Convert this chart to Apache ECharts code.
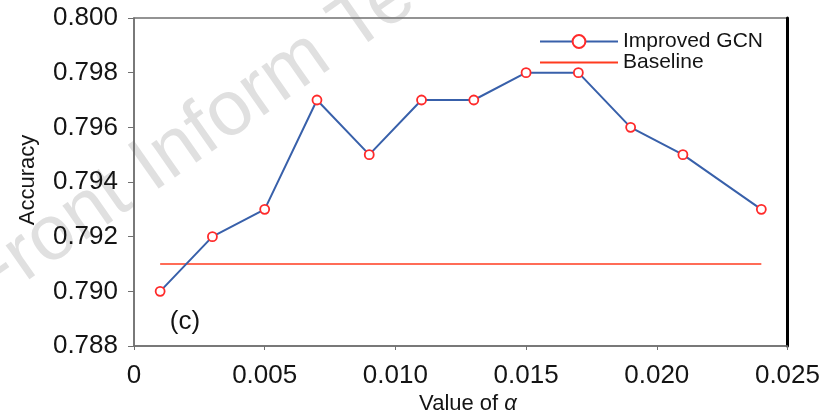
<!DOCTYPE html>
<html>
<head>
<meta charset="utf-8">
<script src="https://cdn.jsdelivr.net/npm/echarts@6/dist/echarts.min.js"></script>
<style>
  html, body { margin: 0; padding: 0; background: #fff; }
  #chart { width: 823px; height: 415px; }
</style>
</head>
<body>
<div id="chart"></div>
<script>
// Accuracy of the improved GCN for different values of alpha
const alphaValues = [0.001, 0.003, 0.005, 0.007, 0.009, 0.011, 0.013, 0.015, 0.017, 0.019, 0.021, 0.024];
const improvedAccuracy = [0.790, 0.792, 0.793, 0.797, 0.795, 0.797, 0.797, 0.798, 0.798, 0.796, 0.795, 0.793];
const baselineAlpha = [0.001, 0.024];
const baselineAccuracy = [0.791, 0.791];

const seriesNames = ['Improved GCN', 'Baseline'];
const xAxisTitle = 'Value of ';
const xAxisSymbol = '\u03b1';
const yAxisTitle = 'Accuracy';
const panelLabel = '(c)';
const watermarkText = 'Front Inform Technol Electron Eng';

const FONT = 'Liberation Sans, Arial, Helvetica, sans-serif';
const TEXT = '#141414';

const chart = echarts.init(document.getElementById('chart'), null, { renderer: 'canvas' });

const pairs = (xs, ys) => xs.map((x, i) => [x, ys[i]]);

chart.setOption({
  backgroundColor: '#ffffff',
  animation: false,
  grid: {
    left: 134, top: 18, right: 32, bottom: 69,
    show: true, borderColor: '#707070', borderWidth: 1.5
  },
  graphic: [
    {
      type: 'text', z: -10,
      x: -4, y: 324,
      rotation: 35 * Math.PI / 180,
      style: {
        text: watermarkText,
        font: '78px ' + FONT,
        fill: '#e0e0e0',
        textAlign: 'left',
        textVerticalAlign: 'bottom'
      },
      silent: true
    },
    {
      type: 'text', z: 50,
      x: 185, y: 322,
      style: {
        text: panelLabel, font: '26px ' + FONT, fill: TEXT,
        textAlign: 'center', textVerticalAlign: 'middle'
      }
    },
    {
      type: 'text', z: 50,
      x: 28, y: 180, rotation: Math.PI / 2,
      style: {
        text: yAxisTitle, font: '22px ' + FONT, fill: TEXT,
        textAlign: 'center', textVerticalAlign: 'middle'
      }
    },
    {
      type: 'text', z: 50,
      x: 468, y: 404,
      style: {
        text: '{n|' + xAxisTitle + '}{a|' + xAxisSymbol + '}',
        textAlign: 'center', textVerticalAlign: 'middle',
        rich: {
          n: { fontFamily: FONT, fontSize: 22, fill: TEXT, color: TEXT },
          a: { fontFamily: FONT, fontSize: 22, fontStyle: 'italic', fill: TEXT, color: TEXT }
        }
      }
    }
  ],
  legend: {
    orient: 'vertical',
    left: 539, top: 31,
    padding: 0, itemGap: 0,
    itemWidth: 78, itemHeight: 16,
    data: [
      { name: seriesNames[0] },
      { name: seriesNames[1], itemStyle: { color: 'rgba(0,0,0,0)', borderColor: 'rgba(0,0,0,0)', borderWidth: 0 } }
    ],
    textStyle: { fontFamily: FONT, fontSize: 21, color: TEXT, lineHeight: 21 }
  },
  xAxis: {
    type: 'value', min: 0, max: 0.025, interval: 0.005,
    axisLine: { show: true, lineStyle: { color: '#707070', width: 1.5 } },
    axisTick: { show: true, inside: false, length: 4, lineStyle: { color: '#707070' } },
    splitLine: { show: false },
    axisLabel: {
      margin: 17, fontFamily: FONT, fontSize: 26, color: TEXT,
      formatter: v => (v === 0 ? '0' : v.toFixed(3))
    }
  },
  yAxis: [
    {
      type: 'value', min: 0.788, max: 0.800, interval: 0.002,
      axisLine: { show: true, lineStyle: { color: '#707070', width: 1.5 } },
      axisTick: { show: true, inside: false, length: 6, lineStyle: { color: '#707070' } },
      splitLine: { show: false },
      axisLabel: {
        margin: 16, fontFamily: FONT, fontSize: 26, color: TEXT,
        formatter: v => v.toFixed(3)
      }
    },
    {
      type: 'value', position: 'right', min: 0.788, max: 0.800, interval: 0.002,
      axisLine: { show: true, lineStyle: { color: '#000000', width: 3 } },
      axisTick: { show: false }, axisLabel: { show: false }, splitLine: { show: false }
    }
  ],
  series: [
    {
      name: seriesNames[0], type: 'line',
      data: pairs(alphaValues, improvedAccuracy),
      z: 5,
      lineStyle: { color: '#3860aa', width: 2 },
      symbol: 'circle', symbolSize: 9,
      itemStyle: { color: '#ffffff', borderColor: '#ff2a2a', borderWidth: 1.8 }
    },
    {
      name: seriesNames[1], type: 'line',
      data: pairs(baselineAlpha, baselineAccuracy),
      z: 4,
      lineStyle: { color: '#ff3b1f', width: 1.6 },
      itemStyle: { color: '#ff3b1f' },
      symbol: 'none'
    }
  ]
});
</script>
</body>
</html>
